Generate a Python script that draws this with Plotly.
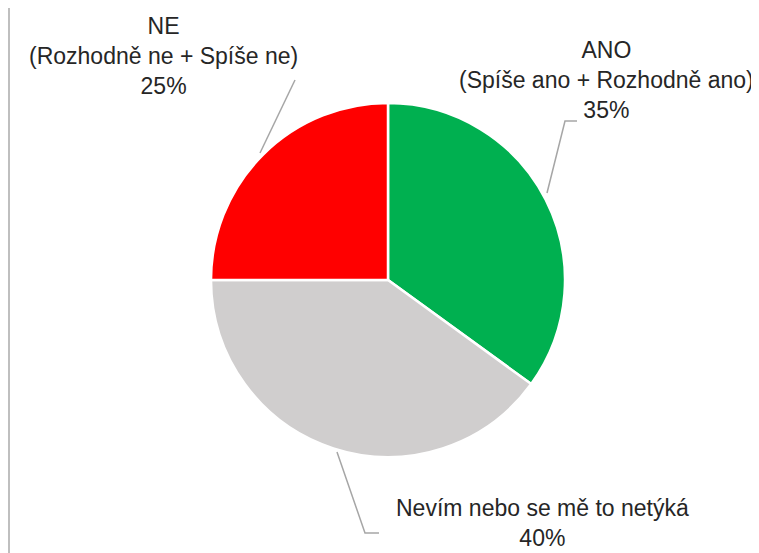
import plotly.graph_objects as go

# Data
categories = ["ANO", "Nevím nebo se mě to netýká", "NE"]
subtitles = ["(Spíše ano + Rozhodně ano)", "", "(Rozhodně ne + Spíše ne)"]
values = [35, 40, 25]
colors = ["#00B050", "#D0CECE", "#FF0000"]

W, H = 759, 553
# page body margin offset compensation (px)
OX, OY = 8, 8
cx, cy, r = 388 - OX, 280 - OY, 177

fig = go.Figure(go.Pie(
    labels=categories,
    values=values,
    sort=False,
    direction="clockwise",
    rotation=0,
    marker=dict(colors=colors, line=dict(color="white", width=2.5)),
    textinfo="none",
    hoverinfo="label+percent",
    showlegend=False,
    domain=dict(x=[(cx - r) / W, (cx + r) / W], y=[(H - cy - r) / H, (H - cy + r) / H]),
))

total = sum(values)

def label_text(i):
    pct = f"{round(values[i] / total * 100)}%"
    parts = [categories[i]]
    if subtitles[i]:
        parts.append(subtitles[i])
    parts.append(pct)
    return "<br>".join(parts)

# label centre positions (reference px) for each category
label_pos = {0: (606, 80), 1: (542, 523), 2: (163, 56)}

font = dict(family="Liberation Sans, Arial, sans-serif", size=23, color="#262626")
annotations = []
for i in range(len(categories)):
    x, y = label_pos[i]
    annotations.append(dict(
        text=label_text(i), x=(x - OX) / W, y=1 - (y - OY) / H, xref="paper", yref="paper",
        xanchor="center", yanchor="middle", showarrow=False, align="center", font=font,
    ))

def px_path(points):
    return "M " + " L ".join(f"{(px - OX) / W},{1 - (py - OY) / H}" for px, py in points)

leader = dict(color="#A6A6A6", width=1.5)
shapes = [
    dict(type="path", xref="paper", yref="paper", path=px_path([(547, 193), (565, 121), (577, 121)]), line=leader),
    dict(type="path", xref="paper", yref="paper", path=px_path([(337, 452), (365, 533), (379, 533)]), line=leader),
    dict(type="path", xref="paper", yref="paper", path=px_path([(295, 80), (260, 153)]), line=leader),
    dict(type="line", xref="paper", yref="paper", x0=(9 - OX) / W, x1=(9 - OX) / W, y0=0, y1=1,
         line=dict(color="#BFBFBF", width=2)),
]

fig.update_layout(
    width=W, height=H,
    margin=dict(l=0, r=0, t=0, b=0),
    paper_bgcolor="white",
    plot_bgcolor="white",
    annotations=annotations,
    shapes=shapes,
)

fig.write_html("out.html")
